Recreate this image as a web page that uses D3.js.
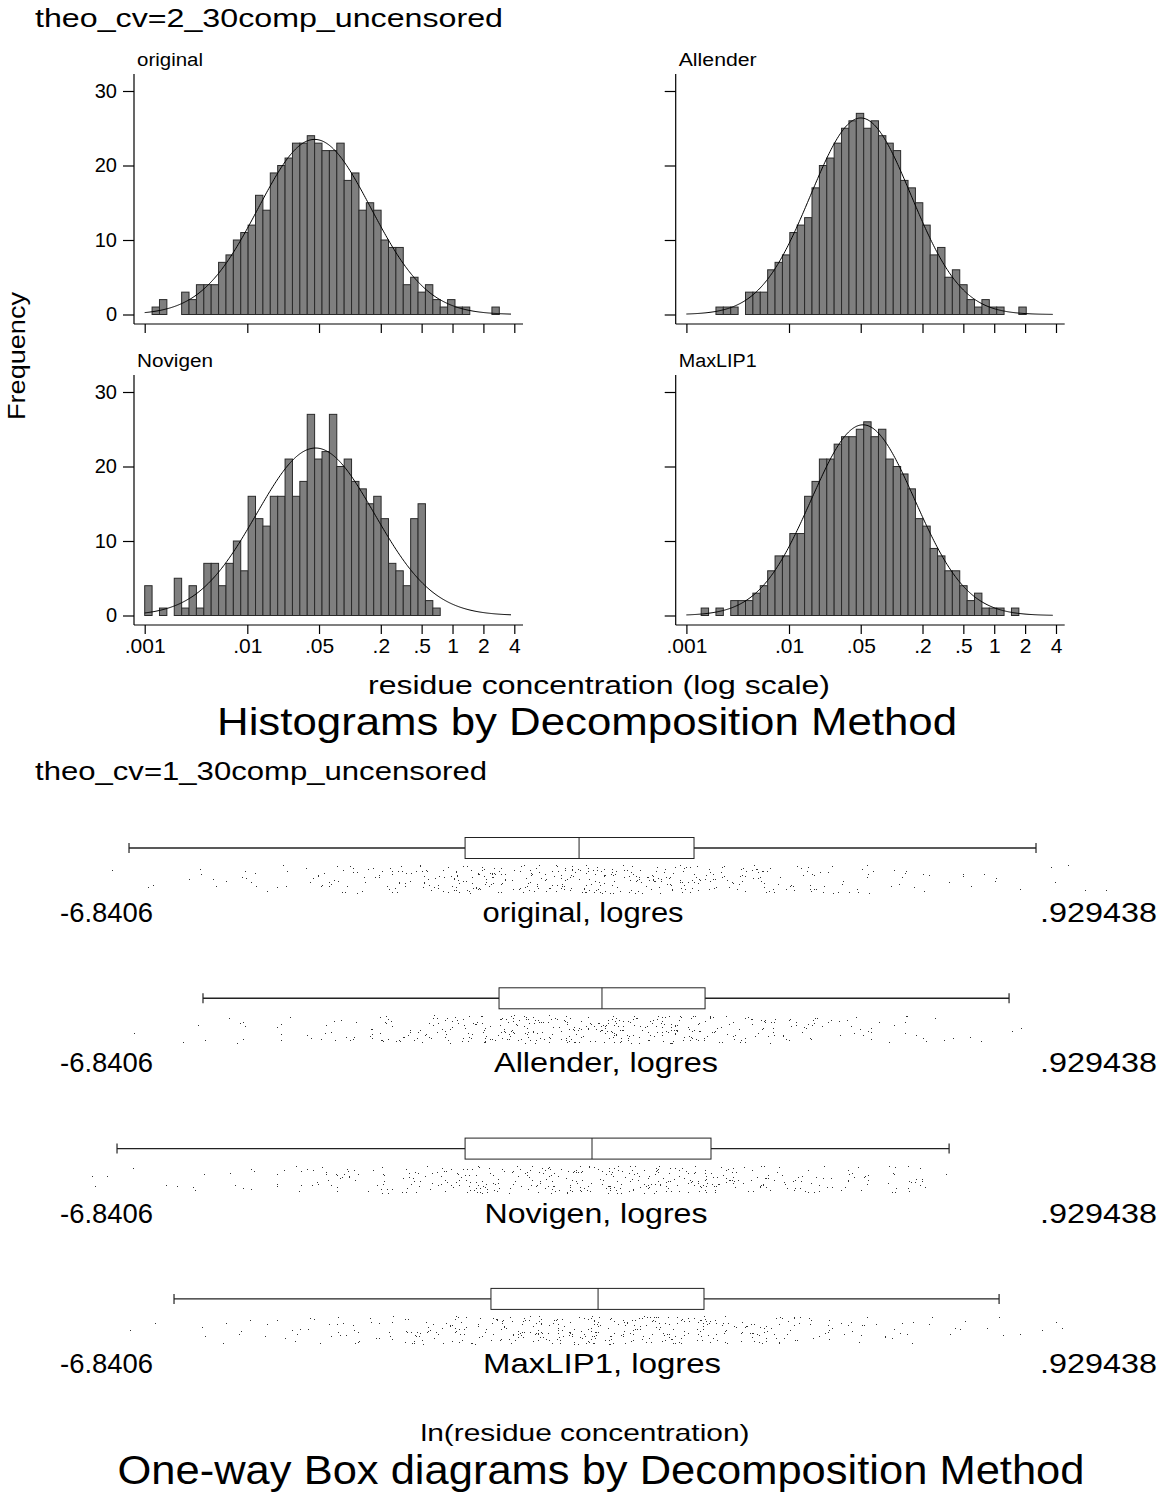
<!DOCTYPE html>
<html>
<head>
<meta charset="utf-8">
<script src="https://cdn.jsdelivr.net/npm/d3@7"></script>
<style>
  body { margin: 0; background: #fff; }
  text { font-family: "Liberation Sans", Arial, sans-serif; fill: #000; }
</style>
</head>
<body>
<div id="chart"></div>
<script>
// ---------- histogram data (top graph, theo_cv=2) ----------
// bins are on a log10 grid starting at .001, one bin = .072 decades
var binStart = -3.0;
var binWidth = 0.072;
var histNames = ["original", "Allender", "Novigen", "MaxLIP1"];
var countsOriginal = [0, 1, 2, 0, 0, 3, 2, 4, 4, 4, 7, 8, 10, 11, 12, 16, 14, 19, 20, 21, 23, 23, 24, 23, 22,
  22, 23, 18, 19, 14, 15, 14, 10, 9, 9, 4, 5, 3, 4, 2, 1, 2, 1, 1, 0, 0, 0, 1];
var countsAllender = [0, 0, 0, 0, 1, 1, 1, 0, 3, 3, 3, 6, 7, 8, 11, 12, 13, 17, 20, 21, 23, 25, 26, 27, 25,
  26, 24, 23, 22, 18, 17, 15, 12, 8, 9, 5, 6, 4, 2, 1, 2, 1, 1, 0, 0, 1];
var countsNovigen = [4, 0, 1, 0, 5, 1, 4, 1, 7, 7, 4, 7, 10, 6, 16, 13, 12, 16, 16, 21, 16, 18, 27, 21, 22,
  27, 20, 21, 18, 17, 15, 16, 13, 7, 6, 4, 13, 15, 2, 1];
var countsMaxLIP1 = [0, 0, 1, 0, 1, 0, 2, 2, 2, 3, 4, 6, 8, 8, 11, 11, 16, 18, 21, 21, 23, 24, 24, 25, 26,
  24, 25, 21, 20, 19, 17, 13, 12, 9, 8, 6, 6, 4, 2, 3, 1, 1, 1, 0, 1];
var histCounts = [countsOriginal, countsAllender, countsNovigen, countsMaxLIP1];
// fitted normal overlay (log10 units)
var fitMean = [-1.344, -1.300, -1.335, -1.279];
var fitSd = [0.55, 0.49, 0.575, 0.505];
var xTickValues = [0.001, 0.01, 0.05, 0.2, 0.5, 1, 2, 4];
var xTickLabels = [".001", ".01", ".05", ".2", ".5", "1", "2", "4"];
var yTickValues = [0, 10, 20, 30];

// ---------- one-way box data (bottom graph, theo_cv=1), ln units ----------
var boxNames = ["original, logres", "Allender, logres", "Novigen, logres", "MaxLIP1, logres"];
var lnMin = -6.8406, lnMax = 0.929438;
var whiskerLo = [-6.462, -5.913, -6.551, -6.128];
var quart1 = [-3.968, -3.716, -3.968, -3.776];
var median = [-3.122, -2.952, -3.026, -2.981];
var quart3 = [-2.269, -2.187, -2.143, -2.195];
var whiskerHi = [0.269, 0.069, -0.376, -0.005];
// counts of observations per strip bin (bins of .371 ln units from -6.863)
var dotBinStart = -6.863, dotBinWidth = 0.371;
var dotsOriginal = [1, 2, 5, 8, 12, 20, 30, 40, 48, 52, 52, 48, 40, 33, 22, 15, 9, 5, 4, 3, 2];
var dotsAllender = [0, 1, 3, 6, 9, 15, 25, 38, 50, 56, 58, 55, 45, 33, 22, 14, 9, 5, 3, 0, 0];
var dotsNovigen = [3, 2, 4, 6, 14, 20, 26, 35, 40, 48, 50, 50, 44, 36, 24, 18, 20, 1, 0, 0, 0];
var dotsMaxLIP1 = [0, 2, 3, 6, 10, 16, 24, 34, 44, 52, 56, 52, 44, 34, 24, 16, 10, 6, 4, 3, 0];
var dotCounts = [dotsOriginal, dotsAllender, dotsNovigen, dotsMaxLIP1];

var W = 1159, H = 1495;
var svg = d3.select("#chart").append("svg")
  .attr("width", W).attr("height", H)
  .attr("viewBox", "0 0 " + W + " " + H);

function label(x, y, str, size, anchor, len) {
  var t = svg.append("text")
    .attr("x", x).attr("y", y)
    .attr("font-size", size)
    .attr("text-anchor", anchor || "start")
    .text(str);
  if (len) t.attr("textLength", len).attr("lengthAdjust", "spacingAndGlyphs");
  return t;
}

// jitter: fixed hash so the strip looks scattered but is the same every run
function hash(n) {
  var s = Math.sin(n * 12.9898 + 78.233) * 43758.5453;
  return s - Math.floor(s);
}

// ---------- histograms ----------
label(35, 27, "theo_cv=2_30comp_uncensored", 26, "start", 468);

var panelLeft = [134, 675.7, 134, 675.7];
var panelBottom = [324, 324, 625, 625];
var panelTitleLen = [66, 78, 76, 78];

histNames.forEach(function (name, p) {
  var left = panelLeft[p], bottom = panelBottom[p];
  var g = svg.append("g").attr("transform", "translate(" + left + "," + bottom + ")");
  var x = d3.scaleLog().domain([0.001, 4]).range([10.7, 380.3]);
  var y = d3.scaleLinear().domain([0, 30]).range([-9.5, -233]);

  var bins = histCounts[p].map(function (c, i) {
    return { lo: Math.pow(10, binStart + i * binWidth), hi: Math.pow(10, binStart + (i + 1) * binWidth), n: c };
  }).filter(function (b) { return b.n > 0; });

  g.selectAll("rect.bar").data(bins).enter().append("rect")
    .attr("class", "bar")
    .attr("x", function (d) { return x(d.lo); })
    .attr("width", function (d) { return x(d.hi) - x(d.lo); })
    .attr("y", function (d) { return y(d.n); })
    .attr("height", function (d) { return y(0) - y(d.n); })
    .attr("fill", "#7f7f7f")
    .attr("stroke", "#2a2a2a")
    .attr("stroke-width", 1);

  // normal density scaled to frequencies
  var n = d3.sum(histCounts[p]);
  var mu = fitMean[p], sd = fitSd[p];
  var pts = d3.range(-3, 0.571, 0.01).map(function (l) {
    var f = n * binWidth / (sd * Math.sqrt(2 * Math.PI)) * Math.exp(-0.5 * Math.pow((l - mu) / sd, 2));
    return [x(Math.pow(10, l)), y(f)];
  });
  g.append("path")
    .attr("d", d3.line()(pts))
    .attr("fill", "none")
    .attr("stroke", "#000")
    .attr("stroke-width", 1);

  // y axis
  var yAxis = d3.axisLeft(y).tickValues(yTickValues).tickSize(11).tickSizeOuter(0)
    .tickFormat(p % 2 === 0 ? d3.format("d") : function () { return ""; });
  var ya = g.append("g").call(yAxis);
  ya.select(".domain").attr("d", "M0,-250V0").attr("stroke", "#000").attr("stroke-width", 1.2);
  ya.selectAll(".tick line").attr("stroke", "#000").attr("stroke-width", 1.2);
  ya.selectAll(".tick text").attr("font-size", 20).attr("x", -17)
    .attr("font-family", "Liberation Sans, Arial, sans-serif");

  // x axis
  var xAxis = d3.axisBottom(x).tickValues(xTickValues).tickSize(9).tickSizeOuter(0)
    .tickFormat(p >= 2 ? function (d, i) { return xTickLabels[i]; } : function () { return ""; });
  var xa = g.append("g").call(xAxis);
  xa.select(".domain").attr("d", "M0,0H389").attr("stroke", "#000").attr("stroke-width", 1.2);
  xa.selectAll(".tick line").attr("stroke", "#000").attr("stroke-width", 1.2);
  xa.selectAll(".tick text").attr("font-size", 21).attr("y", 13)
    .attr("font-family", "Liberation Sans, Arial, sans-serif");

  label(left + 3, bottom - 258, name, 18, "start", panelTitleLen[p]);
});

svg.append("text")
  .attr("transform", "translate(25,356) rotate(-90)")
  .attr("font-size", 23)
  .attr("text-anchor", "middle")
  .attr("textLength", 128).attr("lengthAdjust", "spacingAndGlyphs")
  .text("Frequency");

label(599, 694, "residue concentration (log scale)", 25, "middle", 462);
label(587, 735, "Histograms by Decomposition Method", 38, "middle", 740);

// ---------- one-way box plots ----------
label(35, 780, "theo_cv=1_30comp_uncensored", 26, "start", 452);

var bx = d3.scaleLinear().domain([lnMin, lnMax]).range([78, 1125]);
var rowY = boxNames.map(function (d, i) { return 848 + i * 150.3; });
var nameLen = [201, 224, 223, 238];
var k = 0;

boxNames.forEach(function (name, r) {
  var cy = rowY[r];
  var g = svg.append("g");
  // whiskers
  g.append("line").attr("x1", bx(whiskerLo[r])).attr("x2", bx(quart1[r]))
    .attr("y1", cy).attr("y2", cy).attr("stroke", "#222").attr("stroke-width", 1.4);
  g.append("line").attr("x1", bx(quart3[r])).attr("x2", bx(whiskerHi[r]))
    .attr("y1", cy).attr("y2", cy).attr("stroke", "#222").attr("stroke-width", 1.4);
  [whiskerLo[r], whiskerHi[r]].forEach(function (v) {
    g.append("line").attr("x1", bx(v)).attr("x2", bx(v))
      .attr("y1", cy - 5).attr("y2", cy + 5).attr("stroke", "#222").attr("stroke-width", 1.2);
  });
  g.append("rect").attr("x", bx(quart1[r])).attr("width", bx(quart3[r]) - bx(quart1[r]))
    .attr("y", cy - 10.5).attr("height", 21)
    .attr("fill", "#fff").attr("stroke", "#222").attr("stroke-width", 1);
  g.append("line").attr("x1", bx(median[r])).attr("x2", bx(median[r]))
    .attr("y1", cy - 10.5).attr("y2", cy + 10.5).attr("stroke", "#222").attr("stroke-width", 1);

  // jittered observation strip
  var pts = [];
  dotCounts[r].forEach(function (c, i) {
    for (var j = 0; j < c; j++) {
      k++;
      pts.push({ v: dotBinStart + (i + hash(k)) * dotBinWidth, j: hash(k + 5000) });
    }
  });
  g.selectAll("rect.dot").data(pts).enter().append("rect")
    .attr("class", "dot")
    .attr("x", function (d) { return Math.round(bx(d.v)); })
    .attr("y", function (d) { return Math.round(cy + 17 + d.j * 28); })
    .attr("width", 1).attr("height", 1)
    .attr("fill", "#333");

  label(60, cy + 74, "-6.8406", 27, "start", 93);
  label(1157, cy + 74, ".929438", 27, "end", 117);
  label(bx(median[r]) + 4, cy + 74, name, 28, "middle", nameLen[r]);
});

label(585, 1441, "ln(residue concentration)", 24, "middle", 329);
label(601, 1484, "One-way Box diagrams by Decomposition Method", 40, "middle", 967);
</script>
</body>
</html>
